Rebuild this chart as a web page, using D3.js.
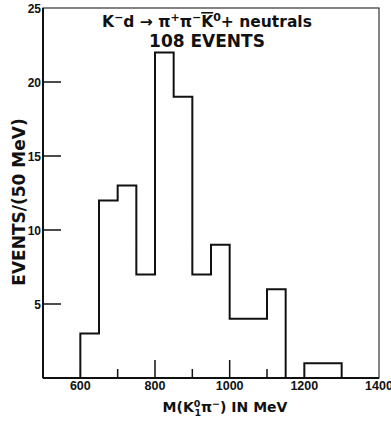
<!DOCTYPE html>
<html>
<head>
<meta charset="utf-8">
<script src="https://cdn.jsdelivr.net/npm/d3@7"></script>
<style>
  body { margin: 0; background: #fff; }
  svg text { font-family: "DejaVu Sans", sans-serif; font-weight: bold; fill: #111; }
  svg text.num { font-family: "Liberation Sans", Arial, sans-serif; }
</style>
</head>
<body>
<svg id="chart" width="391" height="421"></svg>
<script>
// bin lower edges (MeV), 50 MeV wide, and counts per bin
const binStarts = [600, 650, 700, 750, 800, 850, 900, 950, 1000, 1050, 1100, 1150, 1200, 1250];
const counts    = [3,   12,  13,  7,   22,  19,  7,   9,   4,    4,    6,    0,    1,    1];
const binWidth = 50;

const xTickLabels = [600, 800, 1000, 1200, 1400];
const xTickMarks = [700, 800, 900, 1000, 1100];   // inward ticks drawn on the plot
const yTickLabels = [5, 10, 15, 20, 25];
const yTickMarks = [5, 10, 15, 20];

const svg = d3.select("#chart");

const x = d3.scaleLinear().domain([500, 1400]).range([43, 379]);
const y = d3.scaleLinear().domain([0, 25]).range([378, 8]);

// frame
svg.append("rect")
    .attr("x", x(500)).attr("y", y(25))
    .attr("width", x(1400) - x(500)).attr("height", y(0) - y(25))
    .attr("fill", "none").attr("stroke", "#333").attr("stroke-width", 1.2);
svg.append("line")
    .attr("x1", x(500)).attr("x2", x(500)).attr("y1", y(0)).attr("y2", y(25))
    .attr("stroke", "#111").attr("stroke-width", 2);
svg.append("line")
    .attr("x1", x(500)).attr("x2", x(1400)).attr("y1", y(0)).attr("y2", y(0))
    .attr("stroke", "#111").attr("stroke-width", 2);

// inward ticks
svg.selectAll(".yt").data(yTickMarks).join("line")
    .attr("x1", x(500)).attr("x2", x(500) + 18)
    .attr("y1", d => y(d)).attr("y2", d => y(d))
    .attr("stroke", "#111").attr("stroke-width", 1.5);
svg.selectAll(".xt").data(xTickMarks).join("line")
    .attr("x1", d => x(d)).attr("x2", d => x(d))
    .attr("y1", y(0)).attr("y2", d => y(0) - (d % 200 === 0 ? 18 : 9))
    .attr("stroke", "#111").attr("stroke-width", 1.5);

// tick labels
svg.selectAll(".yl").data(yTickLabels).join("text")
    .attr("class", "num")
    .attr("x", 41).attr("y", d => y(d) + 4.5)
    .attr("text-anchor", "end").attr("font-size", 12)
    .text(d => d);
svg.selectAll(".xl").data(xTickLabels).join("text")
    .attr("class", "num")
    .attr("x", d => x(d)).attr("y", 390)
    .attr("text-anchor", "middle").attr("font-size", 12.5)
    .text(d => d);

// histogram outline (step shape)
const pts = [];
binStarts.forEach((b, i) => {
    if (i === 0) pts.push([b, 0]);
    pts.push([b, counts[i]]);
    pts.push([b + binWidth, counts[i]]);
});
pts.push([binStarts[binStarts.length - 1] + binWidth, 0]);

const line = d3.line().x(d => x(d[0])).y(d => y(d[1]));
svg.append("path")
    .attr("d", line(pts))
    .attr("fill", "none").attr("stroke", "#111").attr("stroke-width", 2);

// title
const t1 = svg.append("text").attr("x", 207).attr("y", 27)
    .attr("text-anchor", "middle").attr("font-size", 15.5);
t1.append("tspan").text("K");
t1.append("tspan").attr("baseline-shift", "super").attr("font-size", 11).text("\u2212");
t1.append("tspan").text("d \u2192 \u03c0");
t1.append("tspan").attr("baseline-shift", "super").attr("font-size", 11).text("+");
t1.append("tspan").text("\u03c0");
t1.append("tspan").attr("baseline-shift", "super").attr("font-size", 11).text("\u2212");
t1.append("tspan").attr("text-decoration", "overline").text("K");
t1.append("tspan").attr("baseline-shift", "super").attr("font-size", 11).text("0");
t1.append("tspan").text("+ neutrals");

svg.append("text").attr("x", 207).attr("y", 47)
    .attr("text-anchor", "middle").attr("font-size", 17)
    .text("108 EVENTS");

// axis titles
svg.append("text")
    .attr("transform", "translate(25,202) rotate(-90)")
    .attr("text-anchor", "middle").attr("font-size", 17)
    .text("EVENTS/(50 MeV)");

const xt = svg.append("text").attr("x", 225).attr("y", 412)
    .attr("text-anchor", "middle").attr("font-size", 14);
xt.append("tspan").text("M(K");
xt.append("tspan").attr("dy", -5).attr("font-size", 9.5).text("0");
xt.append("tspan").attr("dx", -6).attr("dy", 9).attr("font-size", 9.5).text("1");
xt.append("tspan").attr("dy", -4).text("\u03c0");
xt.append("tspan").attr("dy", -5).attr("font-size", 9.5).text("\u2212");
xt.append("tspan").attr("dy", 5).text(")  IN  MeV");
</script>
</body>
</html>
